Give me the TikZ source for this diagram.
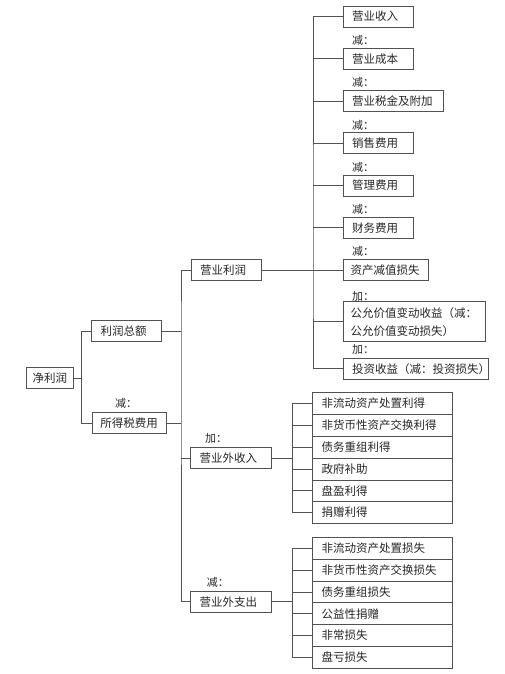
\documentclass[tikz,border=0pt]{standalone}
\usepackage{fontspec}
\newfontfamily\cjk{Noto Sans CJK SC}
\usetikzlibrary{positioning}
\colorlet{linec}{black!68}
\colorlet{textc}{black!85}
\tikzset{
  box/.style={draw=linec,line width=0.8pt,text=textc,font=\cjk\fontsize{11.5pt}{14pt}\selectfont,
    inner xsep=9pt,inner ysep=0pt,outer sep=0pt,minimum height=21pt,text width=#1,align=left,anchor=west},
  sbox/.style={box=122pt,minimum height=21.8pt},
  lab/.style={text=textc,font=\cjk\fontsize{11pt}{13pt}\selectfont,inner sep=0pt,anchor=west},
  conn/.style={draw=linec,line width=0.8pt}
}

\begin{document}
\begin{tikzpicture}[x=1pt,y=-1pt]
\useasboundingbox (0,0) rectangle (504,674);
% left part
\node (jlr) [box=35pt,inner xsep=6pt] at (26.7,378) {净利润};
\node (lrze) [box=52pt] at (91.7,331.3) {利润总额};
\node (sds) [box=58pt,inner xsep=8pt] at (92.3,423) {所得税费用};
\node (yylr) [box=52pt] at (191,270) {营业利润};
\node (yywsr) [box=63pt] at (190.7,458) {营业外收入};
\node (yywzc) [box=63pt] at (190.7,601.7) {营业外支出};
\node (m1) [lab,above right=4pt and 22.7pt of sds.north west] {减：};
\node (m2) [lab,above right=4pt and 14.3pt of yywsr.north west] {加：};
\node (m3) [lab,above right=4pt and 16pt of yywzc.north west] {减：};
% items of operating profit
\node (yysr) [box=52pt] at (343,16.5) {营业收入};
\node (yycb) [box=52pt,below=21.25pt of yysr.south west,anchor=north west] {营业成本};
\node (sjfj) [box=82pt,below=21.25pt of yycb.south west,anchor=north west] {营业税金及附加};
\node (xsfy) [box=52pt,below=21.25pt of sjfj.south west,anchor=north west] {销售费用};
\node (glfy) [box=52pt,below=21.25pt of xsfy.south west,anchor=north west] {管理费用};
\node (cwfy) [box=52pt,below=21.25pt of glfy.south west,anchor=north west] {财务费用};
\node (zcjz) [box=70pt,inner xsep=7.5pt,below=21.25pt of cwfy.south west,anchor=north west] {资产减值损失};
\node (gyjz) [box=127pt,inner xsep=7.5pt,minimum height=40pt,below=21.25pt of zcjz.south west,anchor=north west] {公允价值变动收益（减：\\[4pt]公允价值变动损失）};
\node (tzsy) [box=127pt,below=16.5pt of gyjz.south west,anchor=north west] {投资收益（减：投资损失）};
\node (n1) [lab,above right=2.5pt and 9pt of yycb.north west] {减：};
\node (n2) [lab,above right=2.5pt and 9pt of sjfj.north west] {减：};
\node (n3) [lab,above right=2.5pt and 9pt of xsfy.north west] {减：};
\node (n4) [lab,above right=2.5pt and 9pt of glfy.north west] {减：};
\node (n5) [lab,above right=2.5pt and 9pt of cwfy.north west] {减：};
\node (n6) [lab,above right=2.5pt and 9pt of zcjz.north west] {减：};
\node (n7) [lab,above right=0.5pt and 9pt of gyjz.north west] {加：};
\node (n8) [lab,above right=4pt and 9pt of tzsy.north west] {加：};
% non-operating income
\node (sr1) [sbox] at (312.7,403.6) {非流动资产处置利得};
\node (sr2) [sbox,below=0pt of sr1] {非货币性资产交换利得};
\node (sr3) [sbox,below=0pt of sr2] {债务重组利得};
\node (sr4) [sbox,below=0pt of sr3] {政府补助};
\node (sr5) [sbox,below=0pt of sr4] {盘盈利得};
\node (sr6) [sbox,below=0pt of sr5] {捐赠利得};
% non-operating expenses
\node (zc1) [sbox] at (312.7,548.3) {非流动资产处置损失};
\node (zc2) [sbox,below=0pt of zc1] {非货币性资产交换损失};
\node (zc3) [sbox,below=0pt of zc2] {债务重组损失};
\node (zc4) [sbox,below=0pt of zc3] {公益性捐赠};
\node (zc5) [sbox,below=0pt of zc4] {非常损失};
\node (zc6) [sbox,below=0pt of zc5] {盘亏损失};
% connectors
\coordinate (b1) at (81.7,378);
\coordinate (b2) at (181,331.3);
\coordinate (b3) at (313,270);
\coordinate (b4) at (292.7,458);
\coordinate (b5) at (292.7,601.7);
\draw[conn] (jlr.east) -- (b1);
\draw[conn] (lrze.west) -| (b1) |- (sds.west);
\draw[conn] (lrze.east) -- (b2);
\draw[conn] (yylr.west) -| (b2) |- (yywzc.west);
\draw[conn] (sds.east) -- (sds.east -| b2);
\draw[conn] (yywsr.west) -- (yywsr.west -| b2);
\draw[conn] (yylr.east) -- (zcjz.west);
\draw[conn] (yysr.west) -| (b3) |- (tzsy.west);
\foreach \n in {yycb,sjfj,xsfy,glfy,cwfy,gyjz}
  \draw[conn] (\n.west) -- (\n.west -| b3);
\draw[conn] (yywsr.east) -- (b4);
\draw[conn] (sr1.west) -| (b4) |- (sr6.west);
\foreach \n in {sr2,sr3,sr4,sr5}
  \draw[conn] (\n.west) -- (\n.west -| b4);
\draw[conn] (yywzc.east) -- (b5);
\draw[conn] (zc1.west) -| (b5) |- (zc6.west);
\foreach \n in {zc2,zc3,zc4,zc5}
  \draw[conn] (\n.west) -- (\n.west -| b5);
\end{tikzpicture}
\end{document}
